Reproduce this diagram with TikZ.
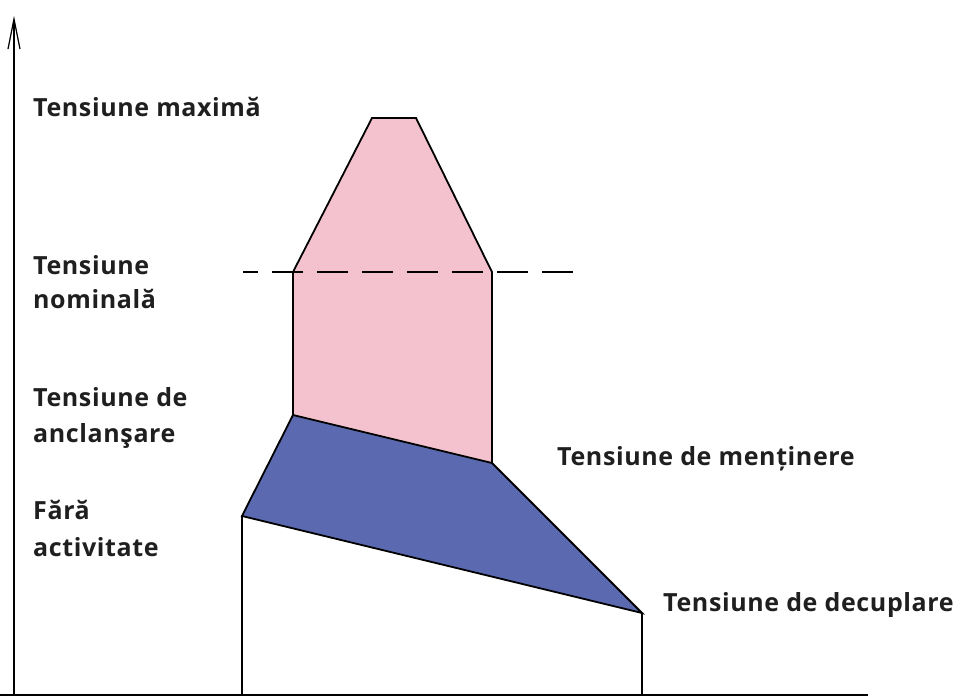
\documentclass[tikz,border=0pt]{standalone}
\usepackage{fontspec}
\setmainfont{Open Sans}[LetterSpace=2.5]
\usetikzlibrary{arrows.meta}
\definecolor{pinkfill}{RGB}{244,194,206}
\definecolor{bluefill}{RGB}{91,106,176}
\tikzset{
  lbl/.style={anchor=base west, inner sep=0pt, font=\fontsize{25}{29}\selectfont\bfseries, text=black!88},
  edge/.style={draw=black, line width=1.8pt, line join=miter},
  axis/.style={draw=black, line width=1.8pt}
}
\begin{document}
\begin{tikzpicture}[x=1pt,y=-1pt]
\useasboundingbox (0,0) rectangle (956,698);
% key points
\coordinate (o) at (14,695);
\coordinate (ytop) at (14,16);
\coordinate (xstart) at (0,695);
\coordinate (xend) at (868,695);
\coordinate (p1) at (372,118);
\coordinate (p2) at (416,118);
\coordinate (p3) at (492,272);
\coordinate (p4) at (492,463);
\coordinate (p5) at (293,415);
\coordinate (p6) at (293,272);
\coordinate (b3) at (642,613);
\coordinate (b4) at (242,516);
\coordinate (bl) at (242,695);
\coordinate (br) at (642,695);
\coordinate (dA) at (243,272);
\coordinate (dB) at (575,272);
% fills
\fill[pinkfill] (p1) -- (p2) -- (p3) -- (p4) -- (p5) -- (p6) -- cycle;
\fill[bluefill] (p5) -- (p4) -- (b3) -- (b4) -- cycle;
% outlines
\draw[edge] (p6) -- (p1) -- (p2) -- (p3) -- (p4) -- (b3) -- (b4) -- (p5) -- (p6);
\draw[edge] (p5) -- (p4);
\draw[edge] (b4) -- (bl);
\draw[edge] (b3) -- (br);
\draw[black, line width=1.6pt, dash pattern=on 31pt off 14pt, dash phase=16pt] (dA) -- (dB);
% axes
\draw[axis] (xstart) -- (xend);
\draw[axis, -{Straight Barb[length=30pt,width=12pt,line width=1.2pt]}] (o) -- (ytop);
% labels
\node[lbl] (max) at (33,117) {Tensiune maximă};
\node[lbl] (nom1) at (33,274) {Tensiune};
\node[lbl] (nom2) at (33,308) {nominală};
\node[lbl] (anc1) at (33,406) {Tensiune de};
\node[lbl] (anc2) at (33,442) {anclanşare};
\node[lbl] (far1) at (33,519) {Fără};
\node[lbl] (far2) at (33,556) {activitate};
\node[lbl] (men) at (557,465) {Tensiune de menținere};
\node[lbl] (dec) at (663,611) {Tensiune de decuplare};
\end{tikzpicture}
\end{document}
